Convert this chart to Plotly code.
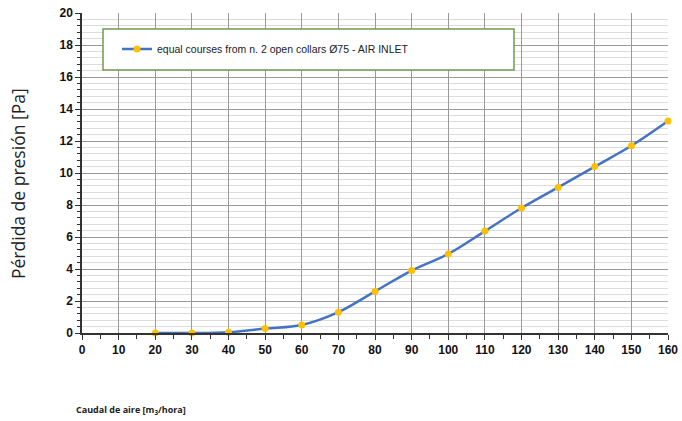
import plotly.graph_objects as go

caudal = [20, 30, 40, 50, 60, 70, 80, 90, 100, 110, 120, 130, 140, 150, 160]
perdida = [0.0, 0.0, 0.05, 0.28, 0.5, 1.3, 2.6, 3.9, 4.94, 6.37, 7.81, 9.1, 10.4, 11.7, 13.25]
serie_nombre = "equal courses from n. 2 open collars Ø75 - AIR INLET"
x_ticks = list(range(0, 161, 10))
y_ticks = list(range(0, 21, 2))

W, H = 682, 421
L, R, T, B = 82, 14, 13, 88
pw, ph = W - L - R, H - T - B

def px_x(p):
    return (p - L) / pw

def px_y(p):
    return (H - B - p) / ph

fig = go.Figure()
fig.add_trace(go.Scatter(
    x=caudal, y=perdida, name=serie_nombre, mode="lines+markers",
    line=dict(color="#4472C4", width=2.5, shape="spline", smoothing=1),
    marker=dict(color="#FFC000", size=7),
    cliponaxis=False,
))

tickfont = dict(family="Liberation Sans", size=12, color="#111", weight="bold")

fig.update_layout(
    width=W, height=H,
    margin=dict(l=L, r=R, t=T, b=B, autoexpand=False),
    paper_bgcolor="white", plot_bgcolor="white",
    showlegend=True,
    legend=dict(x=px_x(117), y=px_y(49), xanchor="left", yanchor="middle",
                bgcolor="rgba(0,0,0,0)", borderwidth=0,
                font=dict(family="Liberation Sans", size=10.5, color="#222")),
    xaxis=dict(range=[0, 160], tickvals=x_ticks, ticktext=[str(v) for v in x_ticks],
               showgrid=True, gridcolor="#9a9a9a", gridwidth=1, automargin=False,
               showline=True, linecolor="#333", linewidth=1.5,
               ticks="outside", ticklen=5, tickcolor="#333", tickfont=tickfont,
               minor=dict(dtick=5, ticks="outside", ticklen=4, tickcolor="#333", showgrid=False),
               zeroline=False, fixedrange=True),
    yaxis=dict(range=[0, 20], tickvals=y_ticks, ticktext=[str(v) for v in y_ticks],
               showgrid=True, gridcolor="#9a9a9a", gridwidth=1, automargin=False,
               showline=True, linecolor="#333", linewidth=1.5,
               ticks="outside", ticklen=5, tickcolor="#333", tickfont=tickfont,
               minor=dict(dtick=0.4, ticks="outside", ticklen=3, tickcolor="#333",
                          showgrid=True, gridcolor="#dcdcdc", gridwidth=1),
               zeroline=False, fixedrange=True),
)

fig.add_shape(type="rect", xref="paper", yref="paper",
              x0=px_x(103), x1=px_x(514), y0=px_y(70), y1=px_y(29),
              line=dict(color="#6f9a4f", width=1.5), fillcolor="white", layer="above")

fig.add_annotation(text="Pérdida de presión [Pa]", xref="paper", yref="paper",
                   x=px_x(18), y=px_y(184), textangle=-90, showarrow=False,
                   xanchor="center", yanchor="middle",
                   font=dict(family="Open Sans", size=17.5, color="#222"))
fig.add_annotation(text="Caudal de aire [m<sub>3</sub>/hora]", xref="paper", yref="paper",
                   x=px_x(74), y=px_y(410), showarrow=False,
                   xanchor="left", yanchor="middle",
                   font=dict(family="Open Sans", size=9, color="#222", weight="bold"))

fig.write_html("out.html", config={"displayModeBar": False},
               post_script="document.body.style.margin='0';document.body.style.overflow='hidden';")
